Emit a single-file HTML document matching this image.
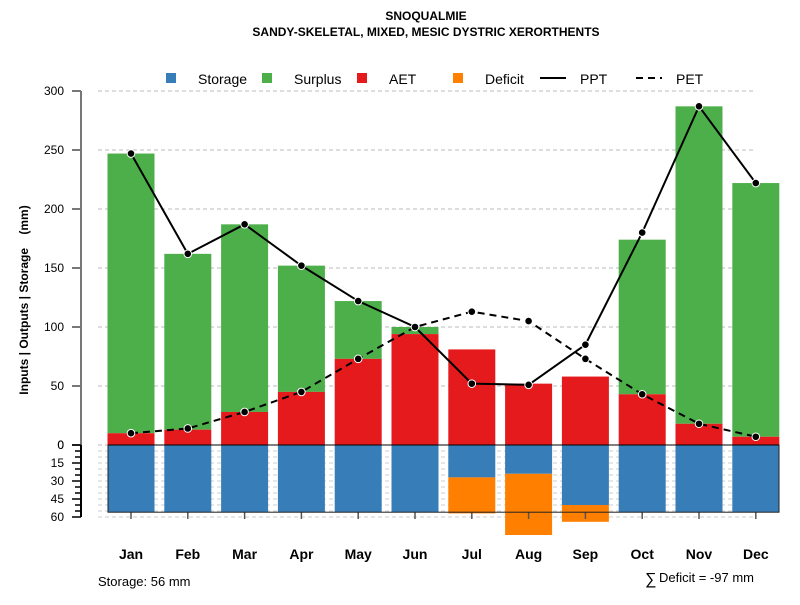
<!DOCTYPE html>
<html><head><meta charset="utf-8"><style>
body{margin:0;background:#fff}
svg{font-family:"Liberation Sans",sans-serif}
</style></head><body>
<svg id="c" width="800" height="600" xmlns="http://www.w3.org/2000/svg">
<text x="426" y="20" text-anchor="middle" font-size="12" font-weight="bold">SNOQUALMIE</text>
<text x="426" y="36" text-anchor="middle" font-size="12" font-weight="bold">SANDY-SKELETAL, MIXED, MESIC DYSTRIC XERORTHENTS</text>
<text transform="translate(28,300) rotate(-90)" text-anchor="middle" font-size="12" font-weight="bold" style="white-space:pre">Inputs | Outputs | Storage    (mm)</text>
<g id="legend">
<rect x="166" y="73" width="10" height="10" fill="#377eb8"/>
<text x="198" y="84" font-size="14">Storage</text>
<rect x="262" y="73" width="10" height="10" fill="#4daf4a"/>
<text x="294" y="84" font-size="14">Surplus</text>
<rect x="357" y="73" width="10" height="10" fill="#e41a1c"/>
<text x="389" y="84" font-size="14">AET</text>
<rect x="453" y="73" width="10" height="10" fill="#ff7f00"/>
<text x="485" y="84" font-size="14">Deficit</text>
<line x1="540" y1="78" x2="566" y2="78" stroke="#000" stroke-width="2"/>
<text x="580" y="84" font-size="14">PPT</text>
<line x1="636" y1="78" x2="662" y2="78" stroke="#000" stroke-width="2" stroke-dasharray="7,5"/>
<text x="676" y="84" font-size="14">PET</text>
</g>
<text x="98" y="586" font-size="13">Storage: 56 mm</text>
<text x="645" y="584" font-size="16">∑</text>
<text x="659" y="582" font-size="13">Deficit = -97 mm</text>
</svg>
<script>
const months=["Jan","Feb","Mar","Apr","May","Jun","Jul","Aug","Sep","Oct","Nov","Dec"];
const ppt=[247,162,187,152,122,100,52,51,85,180,287,222];
const pet=[10,14,28,45,73,100,113,105,73,43,18,7];
const aet=[10,13,28,45,73,94,81,52,58,43,18,7];
const surplus=[237,149,159,107,49,6,0,0,0,131,269,215];
const storage=[56,56,56,56,56,56,27,24,50,56,56,56];
const deficit=[0,0,0,0,0,0,30,51,14,0,0,0];
const yTicks=[0,50,100,150,200,250,300];
const lowTicks=[0,15,30,45,60];
const NS="http://www.w3.org/2000/svg";
const svg=document.getElementById('c');
const x=i=>131+i*56.8;
const y=v=>445-v*1.18;
const yl=v=>445+v*1.2;
const bw=47;
function mk(t,a,p){const e=document.createElementNS(NS,t);for(const k in a)e.setAttribute(k,a[k]);(p||svg).appendChild(e);return e;}
const g=mk('g',{});


yTicks.forEach(v=>{const l=mk('line',{x1:98,x2:755,y1:y(v),y2:y(v),stroke:'#bbb','stroke-dasharray':'4,3'},g);

});
for(let v=5;v<=60;v+=5){const l=mk('line',{x1:98,x2:755,y1:yl(v),y2:yl(v),stroke:'#ccc','stroke-dasharray':'4,3'},g);

}
const ax=mk('line',{x1:81,x2:81,y1:y(300),y2:y(0),stroke:'#777','stroke-width':2},g);


yTicks.forEach(v=>{mk('line',{x1:72,x2:81,y1:y(v),y2:y(v),stroke:'#777','stroke-width':2},g);
const t=mk('text',{x:64,y:y(v)+4,'text-anchor':'end','font-size':12},g);t.textContent=v;

});
const ax2=mk('line',{x1:81,x2:81,y1:yl(0),y2:yl(60),stroke:'#000','stroke-width':2},g);


for(let v=0;v<=60;v+=5)mk('line',{x1:lowTicks.includes(v)?72:75,x2:81,y1:yl(v),y2:yl(v),stroke:'#000','stroke-width':1.5},g);
lowTicks.forEach(v=>{const t=mk('text',{x:64,y:yl(v)+4,'text-anchor':'end','font-size':12},g);t.textContent=v;

});
months.forEach((m,i)=>{
 const x0=x(i)-bw/2;
 const s=mk('rect',{x:x0,y:y(aet[i]+surplus[i]),width:bw,height:surplus[i]*1.18,fill:'#4daf4a'},g);
 
 
 const a=mk('rect',{x:x0,y:y(aet[i]),width:bw,height:aet[i]*1.18,fill:'#e41a1c'},g);
 
 
 const st=mk('rect',{x:x0,y:yl(0),width:bw,height:storage[i]*1.2,fill:'#377eb8'},g);
 
 
 if(deficit[i]>0){const d=mk('rect',{x:x0,y:yl(storage[i]),width:bw,height:deficit[i]*1.2,fill:'#ff7f00'},g);
 
 }
 mk('line',{x1:x(i),x2:x(i),y1:512,y2:519,stroke:'#555','stroke-width':1.5},g);
 const t=mk('text',{x:x(i),y:559,'text-anchor':'middle','font-size':14,'font-weight':'bold'},g);t.textContent=m;
 
 
});
const frame=mk('rect',{x:108,y:yl(0),width:671,height:56*1.2,fill:'none',stroke:'#222','stroke-width':1},g);


mk('line',{x1:108,x2:779,y1:yl(0),y2:yl(0),stroke:'#000','stroke-width':1},g);
function line(arr,dash,name){
 const p=mk('polyline',{points:arr.map((v,i)=>x(i)+','+y(v)).join(' '),fill:'none',stroke:'#000','stroke-width':2,'stroke-dasharray':dash},g);
 
 
 arr.forEach((v,i)=>{const c=mk('circle',{cx:x(i),cy:y(v),r:3.8,fill:'#000',stroke:'#fff','stroke-width':1},g);
 
 });
}
line(pet,'7,5','pet');
line(ppt,'none','ppt');
</script>
</body></html>
